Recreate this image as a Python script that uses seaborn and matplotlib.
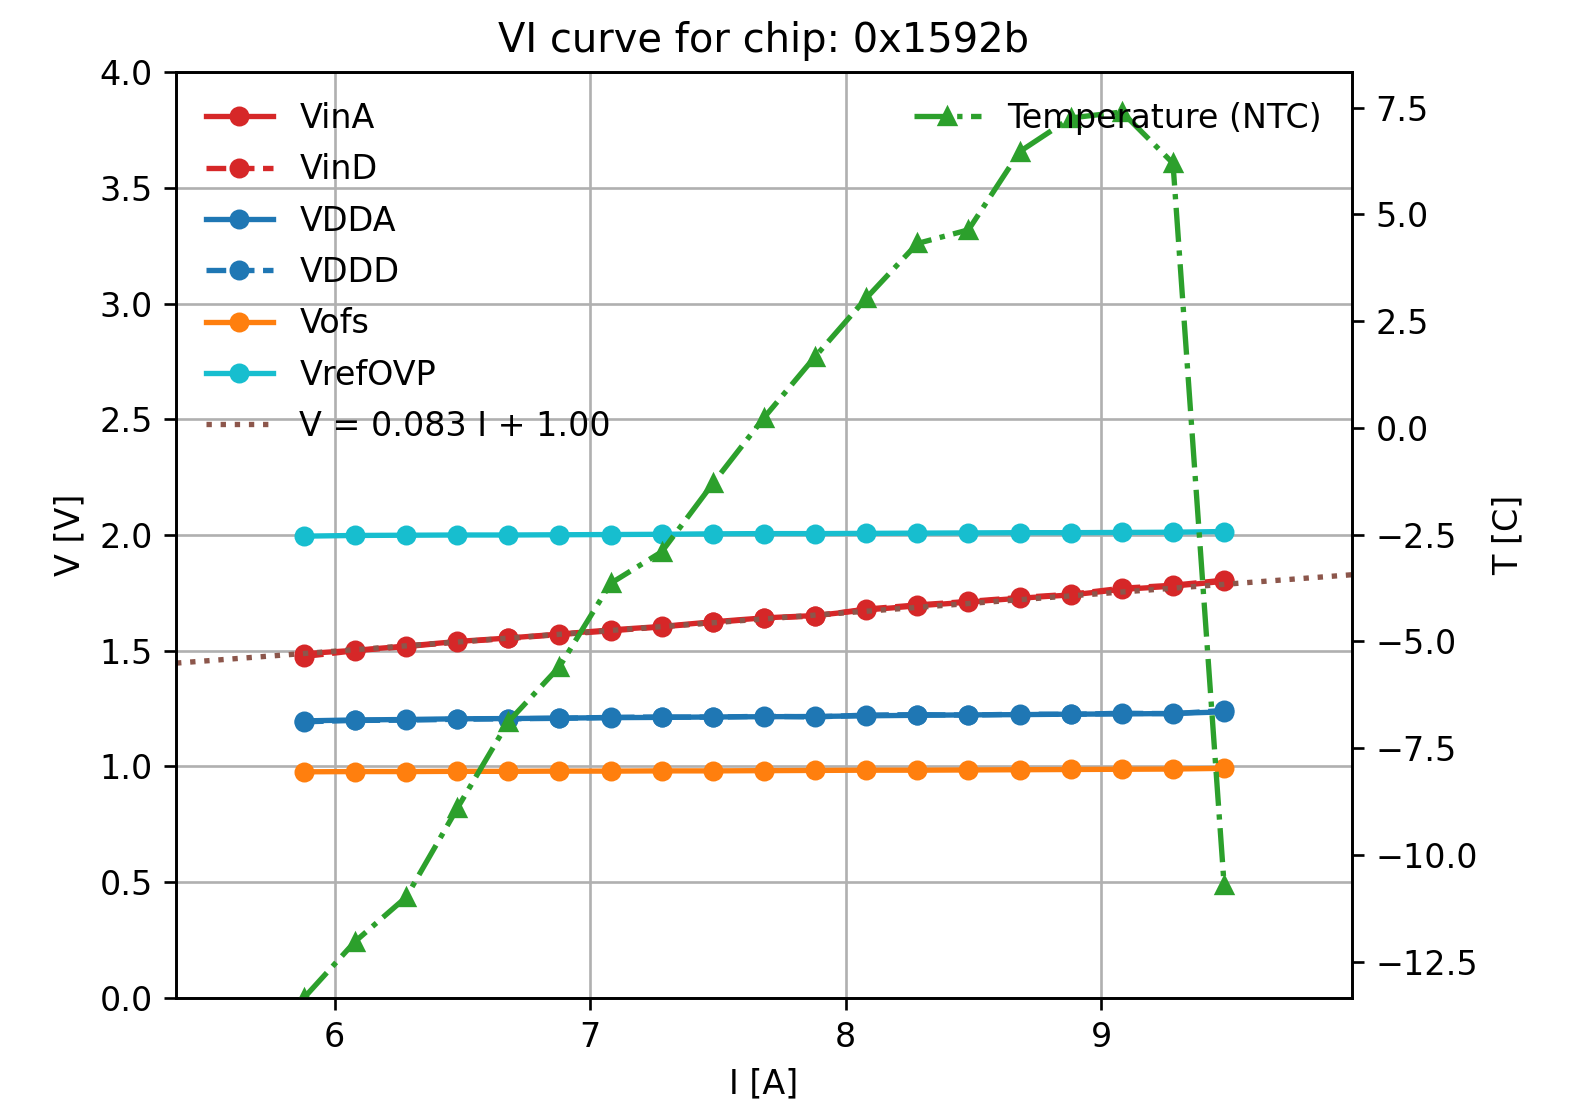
import numpy as np
import matplotlib
matplotlib.use("Agg")
import matplotlib.pyplot as plt
import seaborn as sns

# ---- data ----
I = [5.88, 6.08, 6.28, 6.48, 6.68, 6.88, 7.08, 7.28, 7.48, 7.68,
     7.88, 8.08, 8.28, 8.48, 8.68, 8.88, 9.08, 9.28, 9.48]
VinA = [1.487, 1.502, 1.520, 1.540, 1.555, 1.572, 1.590, 1.605, 1.625, 1.642,
        1.652, 1.676, 1.694, 1.710, 1.727, 1.741, 1.765, 1.779, 1.800]
VinD = [1.475, 1.500, 1.518, 1.538, 1.553, 1.570, 1.586, 1.603, 1.622, 1.640,
        1.650, 1.680, 1.698, 1.713, 1.730, 1.744, 1.770, 1.783, 1.805]
VDDA = [1.197, 1.201, 1.203, 1.206, 1.207, 1.209, 1.211, 1.212, 1.214, 1.215,
        1.216, 1.219, 1.221, 1.223, 1.224, 1.226, 1.227, 1.229, 1.236]
VDDD = [1.193, 1.199, 1.200, 1.204, 1.206, 1.208, 1.212, 1.214, 1.213, 1.217,
        1.214, 1.222, 1.224, 1.222, 1.226, 1.225, 1.230, 1.228, 1.242]
Vofs = [0.977, 0.978, 0.978, 0.979, 0.979, 0.980, 0.980, 0.981, 0.981, 0.982,
        0.983, 0.984, 0.984, 0.985, 0.986, 0.987, 0.988, 0.989, 0.992]
VrefOVP = [1.995, 1.998, 1.999, 2.000, 2.000, 2.001, 2.002, 2.003, 2.005, 2.006,
           2.006, 2.007, 2.008, 2.009, 2.010, 2.010, 2.011, 2.012, 2.015]
Temp = [-13.35, -12.03, -10.99, -8.91, -6.88, -5.59, -3.64, -2.90, -1.30, 0.24,
        1.67, 3.04, 4.32, 4.64, 6.47, 7.26, 7.40, 6.20, -10.70]
FIT_SLOPE = 0.083
FIT_INTERCEPT = 1.00

TITLE = "VI curve for chip: 0x1592b"

# ---- figure ----
plt.rcParams['font.family'] = ['DejaVu Sans']
fig = plt.figure(figsize=(6.55, 4.6167), dpi=240)
ax1 = fig.add_axes([0.112, 0.0993, 0.748, 0.8357])

series = [
    ("VinA", VinA, "tab:red", "-"),
    ("VinD", VinD, "tab:red", "--"),
    ("VDDA", VDDA, "tab:blue", "-"),
    ("VDDD", VDDD, "tab:blue", "--"),
    ("Vofs", Vofs, "tab:orange", "-"),
    ("VrefOVP", VrefOVP, "tab:cyan", "-"),
]
for name, vals, col, ls in series:
    sns.lineplot(x=I, y=vals, ax=ax1, color=col, linestyle=ls, marker="o",
                 markersize=5, mec=col, mew=1.0, lw=1.6, label=name)

xmin, xmax = min(I) - 0.5, max(I) + 0.5
fit_x = np.array([xmin, xmax])
fit_y = FIT_SLOPE * fit_x + FIT_INTERCEPT
sns.lineplot(x=fit_x, y=fit_y, ax=ax1, color="tab:brown", linestyle=":", lw=1.6,
             label=f"V = {FIT_SLOPE:.3f} I + {FIT_INTERCEPT:.2f}")

ax1.set_xlim(xmin, xmax)
ax1.set_ylim(0, 4.0)
ax1.set_xlabel("I [A]")
ax1.set_ylabel("V [V]")
ax1.set_title(TITLE, fontsize=12)
ax1.grid(True, color="#b0b0b0", lw=0.8)
ax1.legend(loc="upper left", frameon=False, labelspacing=0.55)

ax2 = ax1.twinx()
sns.lineplot(x=I, y=Temp, ax=ax2, color="tab:green", linestyle="-.", marker="^",
             markersize=5, mec="tab:green", mew=1.0, lw=1.6, label="Temperature (NTC)")
ax2.set_ylim(-13.35, 8.336)
ax2.set_ylabel("T [C]")
ax2.legend(loc="upper right", frameon=False)

fig.savefig("out.png", dpi=240)
